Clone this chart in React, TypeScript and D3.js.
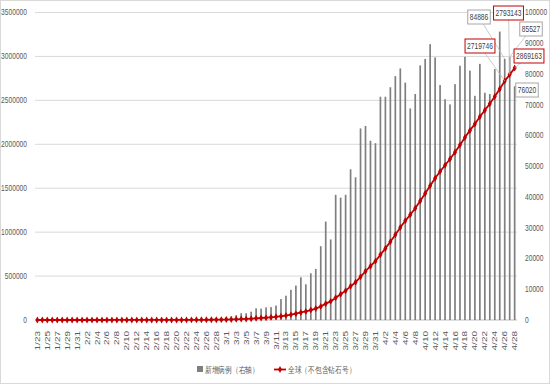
import * as d3 from "d3";
import React from "react";

// one entry per day, 2020-01-23 .. 2020-04-28
const days = d3.timeDay.range(new Date(2020, 0, 23), new Date(2020, 3, 29));
const fmt = d3.timeFormat("%-m/%-d");
const dateLabels = days.map((d) => fmt(d));

// daily new cases (right axis)
const newCases = [
  5, 6, 8, 12, 10, 20, 15, 22, 30,
  25, 18, 15, 20, 25, 30, 40, 35, 30, 30, 40, 50, 60, 80, 50, 70, 75, 80, 90, 100,
  110, 150, 200, 220, 310, 400, 450, 600, 700,
  1000, 1200, 1600, 2200, 2200, 2700, 3800, 3700, 4100, 4200,
  4700, 6800, 7900, 9800, 11200, 13900, 11600, 15200, 16600, 24000, 32000, 26200,
  40700, 39800, 40700, 49000, 46400, 62300, 63100, 58300, 57500, 72600, 72600,
  75700, 79300, 81800, 77200, 68800, 73500, 82800, 84900, 89700, 85400, 76400,
  71800, 70100, 76700, 82700, 85600, 81100, 72900, 83300, 73900, 73500, 81600,
  93800, 84886, 85527, 76020,
];

// cumulative, global excl. Diamond Princess (left axis)
const cumulative = [
  10, 15, 25, 40, 50, 70, 85, 105, 135,
  160, 180, 195, 215, 240, 270, 310, 345, 375, 405, 445, 495, 555, 635, 685, 755,
  830, 910, 1000, 1100, 1210, 1360, 1560, 1780, 2090, 2490, 2940, 3540, 4240,
  5240, 6440, 8040, 10240, 12440, 15140, 18940, 22640, 26740, 30940,
  36000, 43000, 51000, 61000, 72000, 86000, 98000, 113000, 130000, 154000,
  186000, 212000, 253000, 293000, 334000, 383000, 429000, 491000, 555000, 613000,
  670000, 743000, 815000, 891000, 970000, 1052000, 1129000, 1198000, 1271000,
  1354000, 1439000, 1528000, 1614000, 1690000, 1762000, 1832000, 1909000,
  1992000, 2077000, 2158000, 2231000, 2314000, 2388000, 2462000, 2543000,
  2630000, 2719746, 2793143, 2869163,
];

const leftTicks = [0, 500000, 1000000, 1500000, 2000000, 2500000, 3000000, 3500000];
const rightTicks = [0, 10000, 20000, 30000, 40000, 50000, 60000, 70000, 80000, 90000, 100000];

const legendBar = "新增病例（右轴）";
const legendLine = "全球（不包含钻石号）";

// callouts: which day, which series, and where the box sits
const callouts = [
  { i: 94, series: "bar", bx: 479, by: 17 },
  { i: 95, series: "bar", bx: 531, by: 29 },
  { i: 96, series: "bar", bx: 527, by: 90 },
  { i: 94, series: "line", bx: 480, by: 46 },
  { i: 95, series: "line", bx: 508.5, by: 13 },
  { i: 96, series: "line", bx: 529, by: 56 },
];

const W = 550;
const H = 386;
const top = 12.5;
const bottom = 320;
const left = 35;
const right = 517;
const sx = 0.74; // horizontal squeeze of the text in the original
const grey = "#595959";
const red = "#c00000";

function Txt({ x, y, size = 9, anchor = "start", fill = grey, rotate = false, children }) {
  return (
    <text
      transform={`translate(${x},${y}) scale(${sx},1)${rotate ? " rotate(-90)" : ""}`}
      fontSize={size}
      textAnchor={anchor}
      fill={fill}
      dominantBaseline="central"
    >
      {children}
    </text>
  );
}

export default function App() {
  const x = d3.scaleBand().domain(dateLabels).range([left, right]).paddingInner(0.66).paddingOuter(0.3);
  const yL = d3.scaleLinear().domain([0, 3500000]).range([bottom, top]);
  const yR = d3.scaleLinear().domain([0, 100000]).range([bottom, top]);
  const cx = (i: number) => x(dateLabels[i])! + x.bandwidth() / 2;

  const line = d3
    .line<number>()
    .x((_, i) => cx(i))
    .y((d) => yL(d));
  const diamond = d3.symbol().type(d3.symbolDiamond).size(14)()!;

  return (
    <svg width={W} height={H} style={{ position: "absolute", left: 0, top: 0, fontFamily: "Liberation Sans, Arial, sans-serif" }}>
      <rect x={0.5} y={0.5} width={W - 1} height={H - 3} fill="white" stroke="#d9d9d9" />
      {leftTicks.map((t) => (
        <g key={t}>
          {t > 0 && <line x1={left} x2={right} y1={yL(t)} y2={yL(t)} stroke="#d9d9d9" strokeWidth={1} />}
          <Txt x={27} y={yL(t)} anchor="end">{t}</Txt>
        </g>
      ))}
      {rightTicks.map((t) => (
        <Txt key={t} x={525} y={yR(t)}>{t}</Txt>
      ))}
      <line x1={left} x2={right} y1={bottom} y2={bottom} stroke="#bfbfbf" />

      <g fill="#7f7f7f">
        {newCases.map((v, i) => (
          <rect key={i} x={x(dateLabels[i])} y={yR(v)} width={x.bandwidth()} height={bottom - yR(v)} />
        ))}
      </g>

      <path d={line(cumulative)!} fill="none" stroke={red} strokeWidth={1.8} />
      <g fill={red}>
        {cumulative.map((v, i) => (
          <path key={i} d={diamond} transform={`translate(${cx(i)},${yL(v)})`} />
        ))}
      </g>

      {dateLabels.map((d, i) =>
        i % 2 === 0 ? (
          <Txt key={d} x={cx(i)} y={331} size={10} anchor="end" rotate>
            {d}
          </Txt>
        ) : null
      )}

      {callouts.map((c, k) => {
        const v = c.series === "bar" ? newCases[c.i] : cumulative[c.i];
        const py = c.series === "bar" ? yR(v) : yL(v);
        const label = String(v);
        const w = label.length * 3.7 + 4;
        return (
          <g key={k}>
            <line x1={c.bx} y1={c.by} x2={cx(c.i)} y2={py} stroke="#bfbfbf" strokeWidth={0.8} />
            <rect
              x={c.bx - w / 2}
              y={c.by - 7}
              width={w}
              height={14}
              fill="white"
              stroke={c.series === "bar" ? "#a6a6a6" : red}
              strokeWidth={1}
            />
            <Txt x={c.bx} y={c.by} size={9} anchor="middle" fill="#404040">{label}</Txt>
          </g>
        );
      })}

      <g>
        <rect x={197} y={366} width={6} height={6} fill="#7f7f7f" />
        <Txt x={205} y={369.5} size={9.5}>{legendBar}</Txt>
        <line x1={274} x2={286} y1={369.5} y2={369.5} stroke={red} strokeWidth={1.8} />
        <path d={diamond} transform="translate(280,369.5)" fill={red} />
        <Txt x={288} y={369.5} size={9.5}>{legendLine}</Txt>
      </g>
    </svg>
  );
}
